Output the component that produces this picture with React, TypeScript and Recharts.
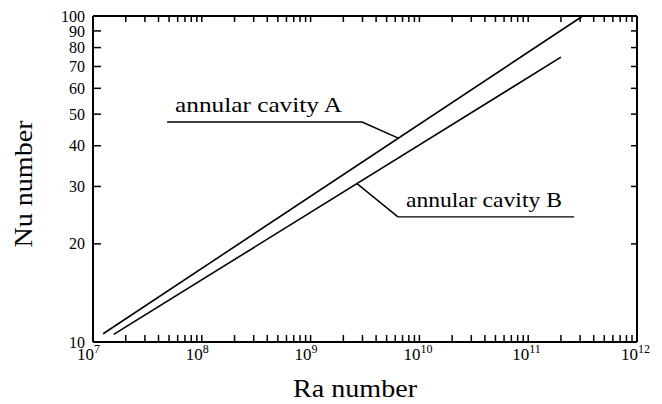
import React from 'react';
import { LineChart, Line, XAxis, YAxis, ReferenceLine } from 'recharts';

const serif = '"Liberation Serif", "Times New Roman", serif';

// x axis: Ra number, decades and the minor steps inside each decade
const raDecades = [1e7, 1e8, 1e9, 1e10, 1e11, 1e12];
const raExponents = ['7', '8', '9', '10', '11', '12'];
const minorSteps = [2, 3, 4, 5, 6, 7, 8, 9];
// y axis: Nu number
const nuTicks = [10, 20, 30, 40, 50, 60, 70, 80, 90, 100];

// the two correlation lines
const cavityA = [
  { ra: 1.24e7, nu: 10.6 },
  { ra: 3.1e11, nu: 99.5 },
];
const cavityB = [
  { ra: 1.55e7, nu: 10.55 },
  { ra: 2.0e11, nu: 74.8 },
];

// leader lines of the two notes
const leaderA = [
  { ra: 4.8e7, nu: 47.3 },
  { ra: 2.97e9, nu: 47.3 },
  { ra: 6.4e9, nu: 42.2 },
];
const leaderB = [
  { ra: 2.67e9, nu: 30.6 },
  { ra: 6.35e9, nu: 24.2 },
  { ra: 2.64e11, nu: 24.2 },
];

const raTicks = [
  ...raDecades,
  ...raDecades.slice(0, -1).flatMap((d) => minorSteps.map((m) => m * d)),
].sort((a, b) => a - b);

// tick lines point into the plot (negative tickSize), tickMargin brings
// the label anchor back onto the axis line
const BottomTick = (props: any) => {
  const { x, y, payload } = props;
  const i = raDecades.indexOf(payload.value);
  if (i < 0) return <g />;
  return (
    <g fontFamily={serif} fill="#000">
      <text x={x + 1} y={y + 18} fontSize={17} textAnchor="end">10</text>
      <text x={x + 1} y={y + 11} fontSize={12} textAnchor="start">{raExponents[i]}</text>
    </g>
  );
};

const NoTick = () => <g />;

const LeftTick = (props: any) => {
  const { x, y, payload } = props;
  return (
    <text x={x - 8} y={y} dy="0.35em" fontSize={16} textAnchor="end" fontFamily={serif} fill="#000">
      {payload.value}
    </text>
  );
};

const RaTitle = (props: any) => {
  const vb = props.viewBox;
  return (
    <text
      x={vb.x + vb.width / 2 - 10}
      y={vb.y + 55}
      fontSize={25}
      fontFamily={serif}
      textAnchor="middle"
      fill="#000"
      textLength={124}
      lengthAdjust="spacingAndGlyphs"
    >
      Ra number
    </text>
  );
};

const NuTitle = (props: any) => {
  const vb = props.viewBox;
  const cx = vb.x - 1;
  const cy = vb.y + vb.height / 2 + 5;
  return (
    <text
      x={cx}
      y={cy}
      transform={`rotate(-90, ${cx}, ${cy})`}
      fontSize={25}
      fontFamily={serif}
      textAnchor="middle"
      fill="#000"
      textLength={127}
      lengthAdjust="spacingAndGlyphs"
    >
      Nu number
    </text>
  );
};

const Note = (props: any) => {
  const { viewBox, text, width } = props;
  return (
    <text
      x={viewBox.x + 8}
      y={viewBox.y - 10}
      fontSize={21}
      fontFamily={serif}
      fill="#000"
      textLength={width}
      lengthAdjust="spacingAndGlyphs"
    >
      {text}
    </text>
  );
};

const toSegment = (pts: { ra: number; nu: number }[], i: number) => [
  { x: pts[i].ra, y: pts[i].nu },
  { x: pts[i + 1].ra, y: pts[i + 1].nu },
];

const axisStroke = { stroke: '#000', strokeWidth: 2 };
const tickStroke = { stroke: '#000', strokeWidth: 1.5 };

export default function App() {
  return (
    <div style={{ position: 'absolute', left: 0, top: 0, background: '#fff' }}>
      <LineChart width={662} height={404} margin={{ top: 15, right: 24, bottom: 22, left: 33 }}>
        <XAxis
          dataKey="ra"
          type="number"
          scale="log"
          domain={[1e7, 1e12]}
          allowDataOverflow
          ticks={raTicks}
          interval={0}
          height={40}
          tickSize={-7}
          tickMargin={7}
          tickLine={tickStroke}
          axisLine={axisStroke}
          tick={BottomTick}
          label={<RaTitle />}
        />
        <XAxis
          xAxisId="top"
          orientation="top"
          dataKey="ra"
          type="number"
          scale="log"
          domain={[1e7, 1e12]}
          allowDataOverflow
          ticks={raTicks}
          interval={0}
          height={1}
          tickSize={-6}
          tickMargin={6}
          tickLine={tickStroke}
          axisLine={axisStroke}
          tick={NoTick}
        />
        <YAxis
          dataKey="nu"
          type="number"
          scale="log"
          domain={[10, 100]}
          allowDataOverflow
          ticks={nuTicks}
          interval={0}
          width={60}
          tickSize={-8}
          tickMargin={8}
          tickLine={tickStroke}
          axisLine={axisStroke}
          tick={LeftTick}
          label={<NuTitle />}
        />
        <YAxis
          yAxisId="right"
          orientation="right"
          dataKey="nu"
          type="number"
          scale="log"
          domain={[10, 100]}
          allowDataOverflow
          ticks={nuTicks}
          interval={0}
          width={1}
          tickSize={-6}
          tickMargin={6}
          tickLine={tickStroke}
          axisLine={axisStroke}
          tick={NoTick}
        />
        <Line data={cavityA} dataKey="nu" stroke="#000" strokeWidth={1.6} dot={false} isAnimationActive={false} />
        <Line data={cavityB} dataKey="nu" stroke="#000" strokeWidth={1.6} dot={false} isAnimationActive={false} />

        <ReferenceLine
          segment={toSegment(leaderA, 0)}
          stroke="#000"
          strokeWidth={1.4}
          label={<Note text="annular cavity A" width={167} />}
        />
        <ReferenceLine segment={toSegment(leaderA, 1)} stroke="#000" strokeWidth={1.4} />
        <ReferenceLine segment={toSegment(leaderB, 0)} stroke="#000" strokeWidth={1.4} />
        <ReferenceLine
          segment={toSegment(leaderB, 1)}
          stroke="#000"
          strokeWidth={1.4}
          label={<Note text="annular cavity B" width={156} />}
        />
      </LineChart>
    </div>
  );
}
